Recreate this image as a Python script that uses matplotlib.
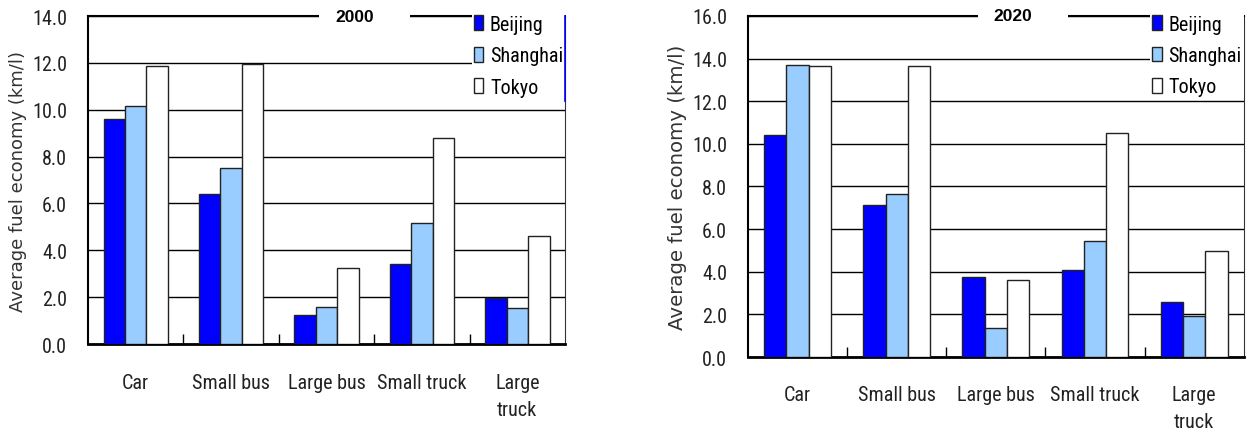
import numpy as np
import matplotlib
matplotlib.use("Agg")
import matplotlib.pyplot as plt

categories = ["Car", "Small bus", "Large bus", "Small truck", "Large\ntruck"]
cities = ["Beijing", "Shanghai", "Tokyo"]
colors = ["#0000FF", "#99CCFF", "#FFFFFF"]

# 2000 values (km/l)
beijing_2000 = [9.6, 6.4, 1.25, 3.4, 1.95]
shanghai_2000 = [10.15, 7.5, 1.6, 5.15, 1.55]
tokyo_2000 = [11.85, 11.95, 3.25, 8.8, 4.6]

# 2020 values (km/l)
beijing_2020 = [10.4, 7.15, 3.75, 4.1, 2.6]
shanghai_2020 = [13.7, 7.65, 1.35, 5.45, 1.9]
tokyo_2020 = [13.65, 13.65, 3.6, 10.5, 4.95]

narrow = ["Roboto Condensed", "DejaVu Sans"]

fig = plt.figure(figsize=(12.52, 4.39), dpi=100)
ax1 = fig.add_axes([0.0703, 0.2141, 0.381, 0.747])
ax2 = fig.add_axes([0.5974, 0.1845, 0.396, 0.777])


def draw(ax, series, ymax, title, title_x, xpad, ylab_size):
    x = np.arange(len(categories))
    w = 0.225
    for i, vals in enumerate(series):
        ax.bar(x + (i - 1) * w, vals, w, color=colors[i], edgecolor="#222222",
               linewidth=1.0, label=cities[i], zorder=3)
    ax.set_xlim(-0.5, len(categories) - 0.5)
    ax.set_ylim(0, ymax)
    ticks = np.arange(0, ymax + 0.1, 2)
    ax.set_yticks(ticks)
    ax.set_yticklabels(["%.1f" % v for v in ticks], family=narrow, fontsize=14.5,
                       color="#222222")
    ax.yaxis.grid(True, color="black", linewidth=1.0, zorder=0)
    ax.set_xticks(x)
    ax.set_xticklabels(categories, family=narrow, fontsize=14.5, linespacing=1.55,
                       color="#222222")
    ax.set_xticks(np.arange(0.5, len(categories) - 1, 1), minor=True)
    ax.tick_params(axis="x", which="major", length=0, pad=xpad)
    ax.tick_params(axis="x", which="minor", length=7, direction="in", width=1)
    ax.tick_params(axis="y", length=0, pad=15)
    for s in ["top", "left"]:
        ax.spines[s].set_linewidth(1.5)
    ax.spines["bottom"].set_linewidth(2)
    ax.spines["right"].set_color("#333333")
    ax.set_ylabel("Average fuel economy (km/l)", fontsize=ylab_size, labelpad=4,
                  color="#333333")
    ax.text(title_x, 1.0, title, transform=ax.transAxes, ha="center", va="center",
            fontsize=12.5, fontweight="bold", family="Liberation Sans", zorder=10)
    ax.text(title_x + 0.02, 1.0, " " * 16, transform=ax.transAxes, ha="center",
            va="center", fontsize=12.5,
            bbox=dict(facecolor="white", edgecolor="none", pad=1), zorder=9)
    leg = ax.legend(loc="upper right", bbox_to_anchor=(1.0, 1.01), frameon=True,
                    fancybox=False, edgecolor="none", facecolor="white", framealpha=1,
                    prop={"family": narrow, "size": 14.5}, handlelength=0.45,
                    handleheight=0.75, handletextpad=0.35, labelspacing=0.62,
                    borderpad=0.1, borderaxespad=0.0)
    leg.set_zorder(8)


draw(ax1, [beijing_2000, shanghai_2000, tokyo_2000], 14, "2000", 0.56, 21, 13)
draw(ax2, [beijing_2020, shanghai_2020, tokyo_2020], 16, "2020", 0.535, 20, 14.2)

ax1.plot([1, 1], [1, 0.74], transform=ax1.transAxes, color="blue", lw=1.2,
         clip_on=False, zorder=11)

fig.savefig("out.png", dpi=100)
